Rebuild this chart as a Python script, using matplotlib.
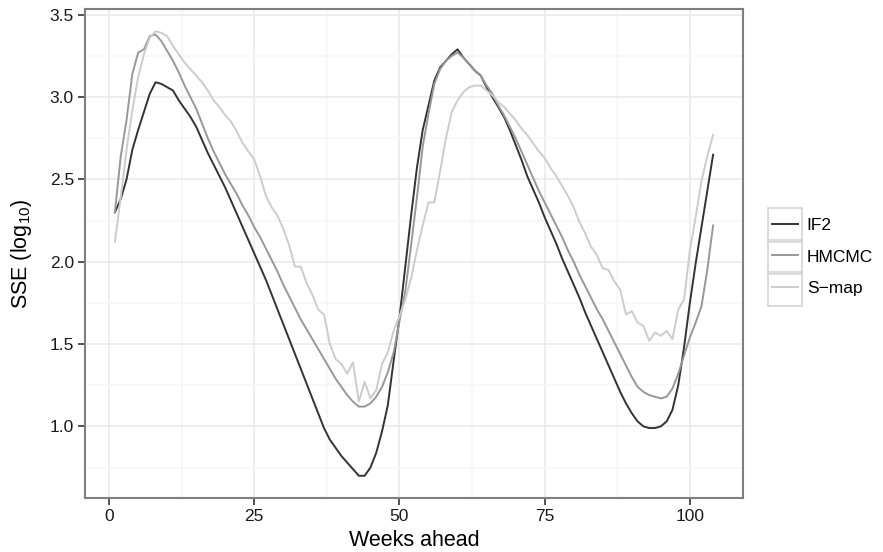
import numpy as np
import matplotlib
matplotlib.use("Agg")
import matplotlib.pyplot as plt
from matplotlib.patches import Rectangle
from matplotlib.transforms import IdentityTransform

plt.rcParams['font.family'] = ['Liberation Sans', 'DejaVu Sans']
plt.rcParams['mathtext.default'] = 'regular'

weeks = np.arange(1, 105)

if2 = [2.30, 2.38, 2.50, 2.68, 2.80, 2.91, 3.02, 3.09, 3.08, 3.06,
       3.04, 2.98, 2.93, 2.88, 2.82, 2.74, 2.66, 2.59, 2.52, 2.45,
       2.37, 2.29, 2.21, 2.13, 2.05, 1.97, 1.89, 1.80, 1.71, 1.62,
       1.53, 1.44, 1.35, 1.26, 1.17, 1.08, 0.99, 0.92, 0.87, 0.82,
       0.78, 0.74, 0.70, 0.70, 0.75, 0.84, 0.97, 1.13, 1.40, 1.66,
       1.97, 2.28, 2.57, 2.80, 2.95, 3.10, 3.18, 3.22, 3.26, 3.29,
       3.24, 3.20, 3.16, 3.13, 3.06, 3.00, 2.94, 2.88, 2.80, 2.71,
       2.62, 2.52, 2.44, 2.36, 2.27, 2.19, 2.11, 2.02, 1.94, 1.86,
       1.78, 1.69, 1.61, 1.53, 1.45, 1.37, 1.29, 1.21, 1.14, 1.08,
       1.03, 1.00, 0.99, 0.99, 1.00, 1.03, 1.10, 1.25, 1.48, 1.75,
       1.99, 2.21, 2.43, 2.65]

hmcmc = [2.30, 2.64, 2.86, 3.14, 3.27, 3.29, 3.37, 3.38, 3.34, 3.28,
         3.22, 3.15, 3.07, 3.00, 2.93, 2.84, 2.75, 2.67, 2.60, 2.53,
         2.47, 2.41, 2.34, 2.28, 2.21, 2.15, 2.08, 2.01, 1.94, 1.86,
         1.79, 1.72, 1.65, 1.59, 1.53, 1.47, 1.41, 1.35, 1.29, 1.24,
         1.19, 1.15, 1.12, 1.12, 1.14, 1.18, 1.24, 1.33, 1.45, 1.64,
         1.82, 2.10, 2.39, 2.70, 2.90, 3.08, 3.17, 3.22, 3.25, 3.27,
         3.24, 3.20, 3.16, 3.13, 3.07, 3.02, 2.95, 2.89, 2.82, 2.75,
         2.67, 2.59, 2.51, 2.43, 2.36, 2.29, 2.22, 2.15, 2.07, 2.00,
         1.92, 1.85, 1.78, 1.71, 1.65, 1.58, 1.51, 1.44, 1.37, 1.30,
         1.24, 1.21, 1.19, 1.18, 1.17, 1.18, 1.23, 1.32, 1.43, 1.54,
         1.63, 1.73, 1.95, 2.22]

smap = [2.12, 2.39, 2.68, 2.92, 3.12, 3.26, 3.36, 3.40, 3.39, 3.37,
        3.31, 3.26, 3.21, 3.17, 3.13, 3.09, 3.04, 2.98, 2.94, 2.89,
        2.85, 2.79, 2.72, 2.67, 2.62, 2.52, 2.40, 2.33, 2.28, 2.20,
        2.10, 1.97, 1.97, 1.87, 1.80, 1.71, 1.68, 1.50, 1.41, 1.38,
        1.32, 1.39, 1.15, 1.27, 1.17, 1.22, 1.38, 1.45, 1.58, 1.67,
        1.77, 1.90, 2.07, 2.22, 2.36, 2.36, 2.55, 2.75, 2.91, 2.98,
        3.03, 3.06, 3.07, 3.07, 3.04, 3.01, 2.97, 2.94, 2.90, 2.86,
        2.81, 2.77, 2.72, 2.67, 2.63, 2.57, 2.52, 2.46, 2.40, 2.33,
        2.24, 2.17, 2.09, 2.04, 1.96, 1.95, 1.88, 1.83, 1.68, 1.70,
        1.63, 1.61, 1.52, 1.57, 1.55, 1.58, 1.53, 1.71, 1.77, 2.07,
        2.27, 2.49, 2.64, 2.77]

series = [("IF2", if2, "#333333"),
          ("HMCMC", hmcmc, "#989898"),
          ("S\u2212map", smap, "#cccccc")]

W, H = 883, 552
fig = plt.figure(figsize=(W / 100, H / 100), dpi=100)
ax = fig.add_axes([85 / W, 1 - 498 / H, (743 - 85) / W, (498 - 9) / H])

for name, vals, col in series:
    ax.plot(weeks, vals, color=col, lw=1.4, label=name, zorder=3)

# ggplot-like expansion
allv = np.concatenate([if2, hmcmc, smap])
xr = weeks.max() - weeks.min()
yr = allv.max() - allv.min()
ax.set_xlim(weeks.min() - 0.05 * xr, weeks.max() + 0.05 * xr)
ax.set_ylim(allv.min() - 0.05 * yr, allv.max() + 0.05 * yr)

ax.set_xticks([0, 25, 50, 75, 100])
ax.set_xticks([12.5, 37.5, 62.5, 87.5], minor=True)
ax.set_yticks([1.0, 1.5, 2.0, 2.5, 3.0, 3.5])
ax.set_yticklabels(["1.0", "1.5", "2.0", "2.5", "3.0", "3.5"])
ax.set_yticks([0.75, 1.25, 1.75, 2.25, 2.75, 3.25], minor=True)

ax.grid(which='major', color='#ebebeb', lw=1.2, zorder=0)
ax.grid(which='minor', color='#f7f7f7', lw=1.2, zorder=0)
ax.set_axisbelow(True)

ax.tick_params(which='major', length=5, width=1.2, color='#333333',
               labelsize=12.5, labelcolor='#1a1a1a', pad=3)
ax.tick_params(which='minor', length=0)
for s in ax.spines.values():
    s.set_color('#7f7f7f')
    s.set_linewidth(1.5)

ax.set_xlabel("Weeks ahead", fontsize=15.5, labelpad=4)
ax.set_ylabel("SSE (log$_{10}$)", fontsize=15.5, labelpad=11)

leg = ax.legend(loc='center left', bbox_to_anchor=(772 / W, 1 - 257 / H),
                bbox_transform=fig.transFigure, frameon=False,
                fontsize=12.5, handlelength=1.5, handletextpad=0.5,
                labelspacing=0.95, borderpad=0, borderaxespad=0)

fig.canvas.draw()
r = fig.canvas.get_renderer()
for h, t in zip(leg.legend_handles, leg.get_texts()):
    hb = h.get_window_extent(r)
    tb = t.get_window_extent(r)
    cy = (tb.y0 + tb.y1) / 2
    cx = (hb.x0 + hb.x1) / 2
    fig.patches.append(Rectangle((cx - 17, cy - 17), 34, 34, fill=False,
                                 edgecolor='#d4d4d4', lw=1.2,
                                 transform=IdentityTransform(), figure=fig))

fig.savefig("out.png", dpi=100)
